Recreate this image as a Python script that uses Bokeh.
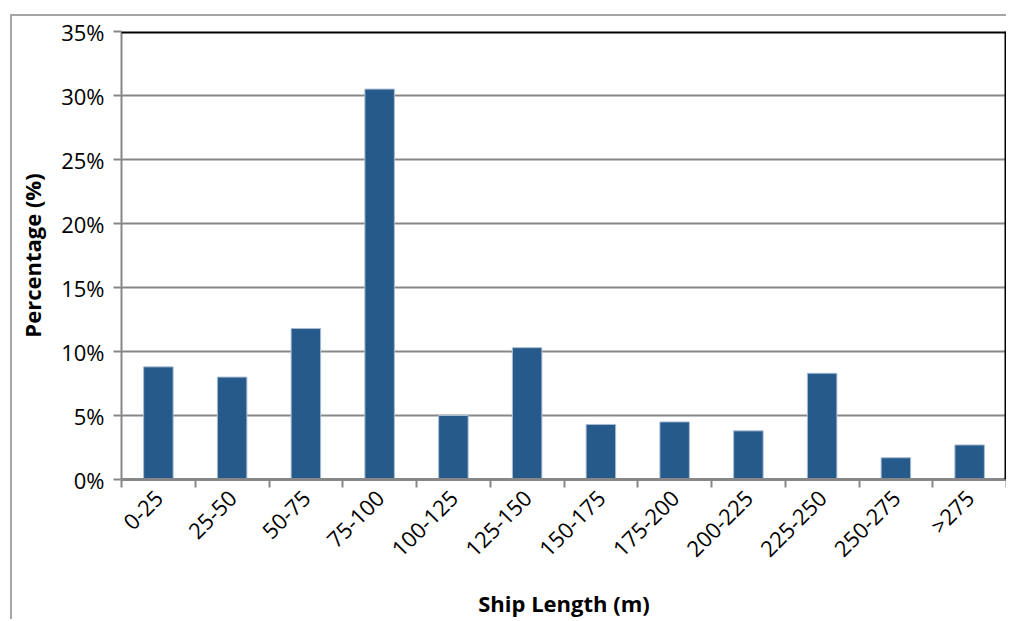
from math import pi
from bokeh.plotting import figure
from bokeh.models import FixedTicker, Span, ColumnDataSource
from bokeh.embed import file_html
from bokeh.resources import INLINE

categories = ["0-25", "25-50", "50-75", "75-100", "100-125", "125-150",
              "150-175", "175-200", "200-225", "225-250", "250-275", ">275"]
percentages = [8.8, 8.0, 11.8, 30.5, 5.0, 10.3, 4.3, 4.5, 3.8, 8.3, 1.7, 2.7]
y_ticks = [0, 5, 10, 15, 20, 25, 30, 35]

centers = [i + 0.5 for i in range(len(categories))]
bounds = list(range(len(categories) + 1))
src = ColumnDataSource(dict(x=centers, top=percentages))

FONT = "Open Sans"
GRAY = "#878787"
FS = "22px"

p = figure(width=996, height=605, output_backend="svg", toolbar_location=None,
           x_range=(0, len(categories)), y_range=(0, 35),
           min_border_left=109, min_border_right=2, min_border_top=15, min_border_bottom=136)
p.margin = (14, 0, 0, 10)
p.styles = {"border-left": "2px solid #a6a6a6", "border-top": "2px solid #a6a6a6"}
p.outline_line_color = None
p.background_fill_color = "white"
p.border_fill_color = "white"

p.vbar(x="x", top="top", width=0.4, source=src, fill_color="#265a8b",
       line_color="#a9bdd2", line_width=1)

# y axis
p.yaxis.ticker = FixedTicker(ticks=y_ticks)
p.yaxis.major_label_overrides = {t: f"{t}%" for t in y_ticks}
p.yaxis.major_tick_in = 0
p.yaxis.major_tick_out = 8
p.yaxis.minor_tick_line_color = None
p.yaxis.major_tick_line_color = GRAY
p.yaxis.major_tick_line_width = 2
p.yaxis.axis_line_color = GRAY
p.yaxis.axis_line_width = 2
p.yaxis.major_label_text_font = FONT
p.yaxis.major_label_text_font_size = FS
p.yaxis.major_label_text_color = "black"
p.yaxis.major_label_standoff = 9
p.yaxis.axis_label = "Percentage (%)"
p.yaxis.axis_label_text_font = FONT
p.yaxis.axis_label_text_font_size = FS
p.yaxis.axis_label_text_font_style = "bold"
p.yaxis.axis_label_text_color = "black"
p.yaxis.axis_label_standoff = 11

# x axis
p.xaxis.ticker = FixedTicker(ticks=centers, minor_ticks=bounds)
p.xaxis.major_label_overrides = {c: lab for c, lab in zip(centers, categories)}
p.xaxis.major_tick_in = 0
p.xaxis.major_tick_out = 0
p.xaxis.minor_tick_in = 0
p.xaxis.minor_tick_out = 8
p.xaxis.minor_tick_line_color = GRAY
p.xaxis.minor_tick_line_width = 2
p.xaxis.axis_line_color = GRAY
p.xaxis.axis_line_width = 3
p.xaxis.major_label_orientation = pi / 4
p.xaxis.major_label_text_font = FONT
p.xaxis.major_label_text_font_size = FS
p.xaxis.major_label_text_color = "black"
p.xaxis.major_label_standoff = 6
p.xaxis.axis_label = "Ship Length (m)"
p.xaxis.axis_label_text_font = FONT
p.xaxis.axis_label_text_font_size = FS
p.xaxis.axis_label_text_font_style = "bold"
p.xaxis.axis_label_text_color = "black"
p.xaxis.axis_label_standoff = 12

p.xgrid.grid_line_color = None
p.ygrid.ticker = FixedTicker(ticks=y_ticks)
p.ygrid.grid_line_color = GRAY
p.ygrid.grid_line_width = 2

# top and right frame lines
p.add_layout(Span(location=35, dimension="width", line_color="black", line_width=4))
p.add_layout(Span(location=len(categories), dimension="height", line_color="black", line_width=4))

open("out.html", "w").write(file_html(p, INLINE))
